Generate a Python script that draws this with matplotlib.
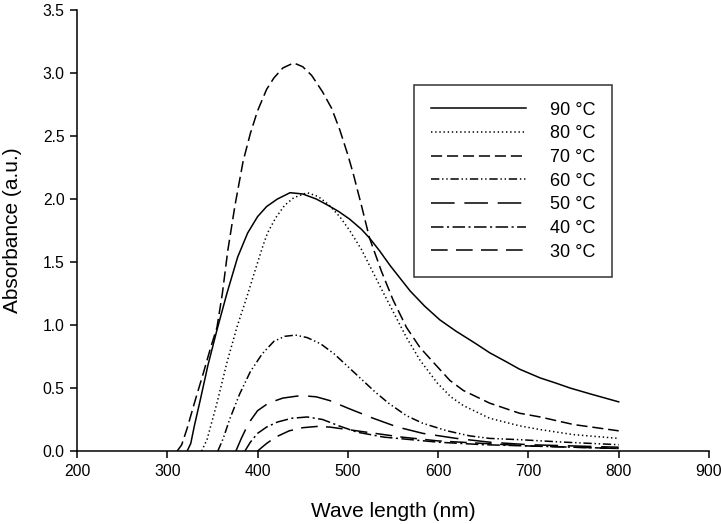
import matplotlib
matplotlib.use("Agg")
import matplotlib.pyplot as plt

plt.rcParams['font.family'] = ['Liberation Sans', 'DejaVu Sans']
plt.rcParams['lines.scale_dashes'] = False

# ---- data ----
wl_90 = [322, 326, 330, 337, 345, 355, 366, 378, 389, 400, 410, 422, 436, 450, 465, 478, 490, 502, 515, 524,
         535, 547, 558, 569, 585, 602, 620, 640, 657, 675, 690, 713, 730, 746, 770, 800]
ab_90 = [0.0, 0.06, 0.20, 0.42, 0.68, 0.96, 1.25, 1.54, 1.73, 1.86, 1.94, 2.00, 2.05, 2.04, 2.00, 1.95, 1.90, 1.84, 1.76, 1.69,
         1.59, 1.47, 1.37, 1.27, 1.15, 1.04, 0.95, 0.86, 0.78, 0.71, 0.65, 0.58, 0.54, 0.50, 0.45, 0.39]

wl_80 = [338, 344, 355, 366, 377, 388, 398, 406, 411, 420, 430, 440, 455, 467, 478, 491, 502, 515, 527, 539,
         552, 565, 580, 599, 614, 628, 657, 690, 713, 750, 800]
ab_80 = [0.0, 0.09, 0.38, 0.70, 0.98, 1.22, 1.45, 1.63, 1.73, 1.85, 1.95, 2.01, 2.05, 2.02, 1.96, 1.86, 1.75, 1.60, 1.43, 1.26,
         1.08, 0.90, 0.72, 0.54, 0.43, 0.36, 0.26, 0.20, 0.17, 0.13, 0.10]

wl_70 = [311, 316, 322, 330, 340, 348, 355, 361, 367, 375, 384, 392, 400, 410, 418, 428, 440, 450, 460, 472,
         482, 491, 500, 506, 515, 524, 537, 550, 565, 580, 599, 613, 628, 657, 690, 713, 750, 800]
ab_70 = [0.0, 0.05, 0.18, 0.38, 0.62, 0.82, 0.98, 1.25, 1.59, 1.95, 2.30, 2.52, 2.70, 2.87, 2.96, 3.04, 3.08, 3.05, 2.98, 2.85,
         2.72, 2.55, 2.35, 2.20, 1.95, 1.69, 1.43, 1.20, 0.98, 0.82, 0.67, 0.56, 0.48, 0.38, 0.30, 0.27, 0.21, 0.16]

wl_60 = [356, 362, 369, 380, 392, 405, 418, 430, 442, 455, 470, 485, 500, 515, 530, 545, 565, 583, 610, 635,
         657, 690, 740, 800]
ab_60 = [0.0, 0.10, 0.25, 0.45, 0.63, 0.77, 0.87, 0.91, 0.92, 0.90, 0.85, 0.77, 0.67, 0.57, 0.47, 0.38, 0.28, 0.22, 0.16, 0.12,
         0.10, 0.09, 0.07, 0.05]

wl_50 = [376, 382, 390, 400, 412, 428, 448, 465, 480, 500, 528, 555, 583, 620, 657, 700, 750, 800]
ab_50 = [0.0, 0.10, 0.22, 0.32, 0.38, 0.42, 0.44, 0.43, 0.40, 0.34, 0.26, 0.19, 0.14, 0.10, 0.07, 0.05, 0.04, 0.03]

wl_40 = [386, 392, 400, 410, 422, 438, 455, 472, 490, 510, 540, 570, 600, 650, 700, 800]
ab_40 = [0.0, 0.07, 0.14, 0.19, 0.23, 0.26, 0.27, 0.25, 0.20, 0.15, 0.11, 0.09, 0.07, 0.05, 0.04, 0.02]

wl_30 = [400, 410, 420, 435, 450, 466, 480, 495, 510, 530, 560, 600, 650, 700, 750, 800]
ab_30 = [0.0, 0.06, 0.11, 0.16, 0.185, 0.195, 0.19, 0.175, 0.16, 0.14, 0.11, 0.08, 0.06, 0.04, 0.03, 0.02]

labels = ['90 °C', '80 °C', '70 °C', '60 °C', '50 °C', '40 °C', '30 °C']
xticks = [200, 300, 400, 500, 600, 700, 800, 900]
yticks = [0.0, 0.5, 1.0, 1.5, 2.0, 2.5, 3.0, 3.5]

series = [(wl_90, ab_90), (wl_80, ab_80), (wl_70, ab_70), (wl_60, ab_60),
          (wl_50, ab_50), (wl_40, ab_40), (wl_30, ab_30)]
styles = ['-', (0, (1, 2)), (0, (8, 3.5)), (0, (6, 2, 1, 2, 1, 2)),
          (0, (17, 7)), (0, (9, 2.5, 1.5, 2.5)), (0, (12, 6))]

fig = plt.figure(figsize=(7.21, 5.24), dpi=100)
ax = fig.add_axes([77/721, 1-451/524, (709-77)/721, (451-10)/524])

for (x, y), ls, lab in zip(series, styles, labels):
    ax.plot(x, y, color='black', linestyle=ls, linewidth=1.1, label=lab)

ax.set_xlim(200, 900)
ax.set_ylim(0, 3.5)
ax.set_xticks(xticks)
ax.set_xticklabels([str(v) for v in xticks])
ax.set_yticks(yticks)
ax.set_yticklabels([f"{v:.1f}" for v in yticks])
ax.spines['top'].set_visible(False)
ax.spines['right'].set_visible(False)
ax.spines['left'].set_linewidth(1.1)
ax.spines['bottom'].set_linewidth(1.1)
ax.tick_params(direction='out', length=5, width=1.1, labelsize=11.3, pad=4)
ax.set_xlabel('Wave length (nm)', fontsize=15, labelpad=17)
ax.set_ylabel('Absorbance (a.u.)', fontsize=15, labelpad=15)

leg = ax.legend(loc='upper left', bbox_to_anchor=((414-77)/632, 1-(85-10)/441),
                frameon=True, fancybox=False, edgecolor='black', fontsize=13,
                handlelength=5.3, handletextpad=1.3, labelspacing=0.37,
                borderpad=0.92, borderaxespad=0)
leg.get_frame().set_linewidth(1.1)

fig.savefig('out.png', dpi=100)
